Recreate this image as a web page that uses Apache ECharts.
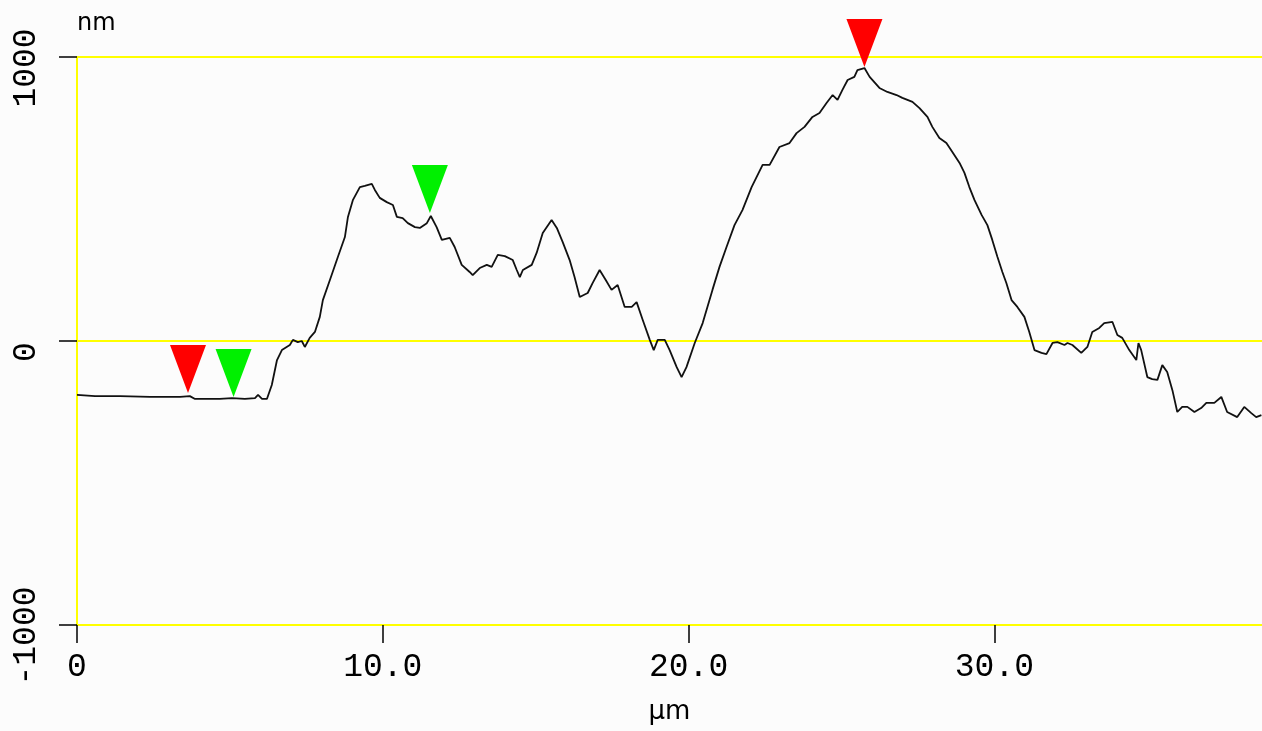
<!DOCTYPE html>
<html>
<head>
<meta charset="utf-8">
<script src="https://cdn.jsdelivr.net/npm/echarts@6/dist/echarts.min.js"></script>
<style>
html,body{margin:0;padding:0;background:#fcfcfc;}
#chart{width:1262px;height:731px;}
</style>
</head>
<body>
<div id="chart"></div>
<script>
// Profile data (µm, nm)
const profileX = [0,0.59,1.41,2.39,3.37,3.69,3.86,4.67,5.07,5.49,5.82,5.92,6.05,6.21,6.37,6.54,6.70,6.96,7.06,7.22,7.35,7.45,7.61,7.78,7.94,8.04,8.27,8.53,8.76,8.86,9.02,9.25,9.41,9.64,9.74,9.90,10.13,10.33,10.46,10.65,10.82,11.05,11.21,11.44,11.57,11.76,11.93,12.19,12.35,12.58,12.84,12.94,13.17,13.40,13.56,13.76,13.99,14.25,14.38,14.48,14.58,14.87,15.03,15.23,15.52,15.69,15.88,16.11,16.27,16.44,16.70,16.86,17.09,17.29,17.48,17.68,17.91,18.14,18.30,18.50,18.73,18.86,18.99,19.22,19.38,19.61,19.77,19.93,20.20,20.46,20.78,21.01,21.24,21.50,21.76,22.06,22.42,22.65,22.97,23.30,23.53,23.79,24.05,24.28,24.51,24.71,24.87,25.03,25.20,25.42,25.52,25.75,25.92,26.24,26.50,26.80,26.99,27.32,27.55,27.81,27.97,28.20,28.43,28.63,28.86,29.02,29.18,29.35,29.58,29.77,29.93,30.10,30.26,30.39,30.56,30.75,30.98,31.14,31.31,31.54,31.70,31.90,32.06,32.29,32.39,32.55,32.84,33.04,33.20,33.43,33.59,33.86,34.02,34.18,34.41,34.64,34.71,34.80,35.00,35.16,35.33,35.49,35.65,35.82,35.98,36.14,36.31,36.54,36.76,36.93,37.19,37.42,37.61,37.94,38.17,38.40,38.56,38.73];
const profileY = [-190,-194,-194,-197,-197,-194,-204,-204,-201,-204,-201,-190,-204,-204,-155,-67,-32,-14,4,-4,0,-21,11,32,85,144,215,296,366,437,496,542,546,553,532,504,489,479,437,433,415,401,398,415,440,401,356,363,331,268,243,232,257,268,261,303,299,285,250,225,250,268,310,380,426,398,349,285,225,155,169,204,250,215,180,197,120,120,137,74,4,-32,4,4,-32,-92,-127,-92,-7,63,180,261,331,408,461,542,620,620,683,697,732,754,789,803,838,866,849,884,919,930,954,961,930,891,877,866,856,842,820,789,754,715,697,665,627,592,542,496,444,408,356,296,243,204,144,120,85,32,-32,-42,-46,-7,-4,-14,-7,-14,-42,-21,32,46,63,67,21,11,-32,-67,-7,-32,-127,-134,-137,-85,-109,-173,-250,-232,-232,-250,-236,-218,-218,-197,-250,-268,-232,-254,-268,-261];

// Cursor markers
const redMarkersX = [3.63, 25.75];
const redMarkersY = [-183, 965];
const greenMarkersX = [5.12, 11.54];
const greenMarkersY = [-197, 451];

// Axis ticks
const xTickValues = [0, 10, 20, 30];
const yTickValues = [-1000, 0, 1000];

const lineData = profileX.map((x, i) => [x, profileY[i]]);
const redData = redMarkersX.map((x, i) => [x, redMarkersY[i]]);
const greenData = greenMarkersX.map((x, i) => [x, greenMarkersY[i]]);

const tri = 'path://M0,0L36,0L18,48Z';
const fontFam = '"Liberation Mono", "DejaVu Sans Mono", monospace';

const chart = echarts.init(document.getElementById('chart'), null, {renderer: 'canvas'});
chart.setOption({
  backgroundColor: '#fcfcfc',
  animation: false,
  grid: {left: 77, right: 0, top: 57, bottom: 106, containLabel: false, outerBoundsMode: 'none'},
  xAxis: {
    type: 'value',
    min: 0,
    max: 38.75,
    interval: 10,
    name: 'µm',
    nameLocation: 'middle',
    nameGap: 74,
    nameTextStyle: {color: '#000', fontSize: 26, fontFamily: 'DejaVu Sans'},
    axisLine: {show: true, onZero: false, lineStyle: {color: '#ffff00', width: 2}},
    axisTick: {show: true, length: 18, customValues: xTickValues, lineStyle: {color: '#000', width: 1.5}},
    axisLabel: {
      show: true,
      customValues: xTickValues,
      margin: 26,
      color: '#000',
      fontSize: 33,
      fontFamily: fontFam,
      formatter: v => v === 0 ? '0' : v.toFixed(1)
    },
    splitLine: {show: false}
  },
  yAxis: {
    type: 'value',
    min: -1000,
    max: 1000,
    interval: 1000,
    name: 'nm',
    nameLocation: 'end',
    nameGap: 33,
    nameTextStyle: {color: '#000', fontSize: 24, fontFamily: 'DejaVu Sans', align: 'left', verticalAlign: 'middle'},
    axisLine: {show: true, onZero: false, lineStyle: {color: '#ffff00', width: 2}},
    axisTick: {show: true, length: 18, customValues: yTickValues, lineStyle: {color: '#000', width: 1.5}},
    axisLabel: {
      show: true,
      customValues: yTickValues,
      rotate: 90,
      margin: 34,
      color: '#000',
      fontSize: 33,
      fontFamily: fontFam,
      padding: [0, 22, 0, 0],
      formatter: v => String(v)
    },
    splitLine: {show: true, lineStyle: {color: '#ffff00', width: 2}}
  },
  series: [
    {
      type: 'line',
      data: lineData,
      showSymbol: false,
      lineStyle: {color: '#111', width: 1.8},
      z: 3
    },
    {
      type: 'scatter',
      data: redData,
      symbol: tri,
      symbolSize: [36, 48],
      symbolOffset: [0, -24],
      itemStyle: {color: '#ff0000', opacity: 1},
      z: 4
    },
    {
      type: 'scatter',
      data: greenData,
      symbol: tri,
      symbolSize: [36, 48],
      symbolOffset: [0, -24],
      itemStyle: {color: '#00f000', opacity: 1},
      z: 4
    }
  ]
});
</script>
</body>
</html>
